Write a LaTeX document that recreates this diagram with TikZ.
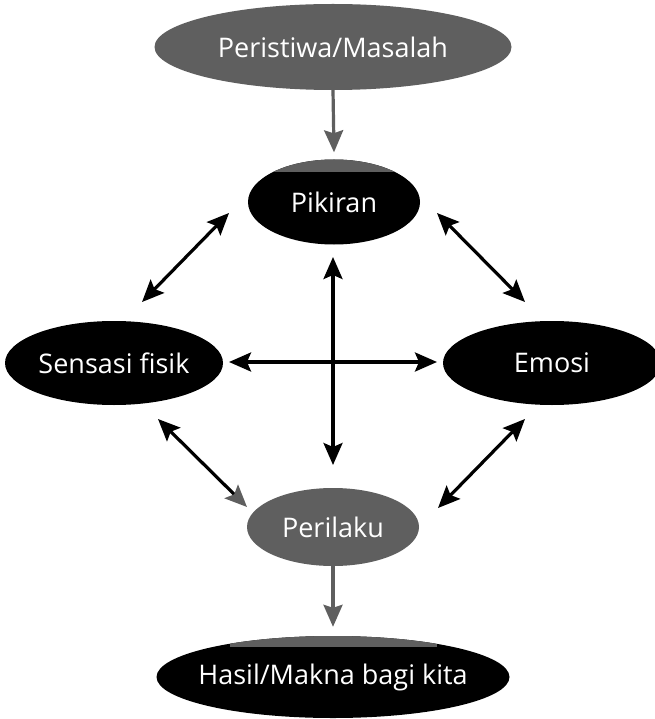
\documentclass[tikz,border=0pt]{standalone}
\usepackage{fontspec}
\setmainfont{Open Sans}
\usetikzlibrary{shapes.geometric,arrows.meta,calc}
\definecolor{greyfill}{HTML}{5F5F5F}
\newcommand{\ovaltext}[1]{\makebox[0pt][c]{#1}}
\tikzset{
  oval/.style={ellipse, inner sep=0pt, text=white, font=\fontsize{27pt}{31pt}\selectfont},
  blk/.style={oval, fill=black},
  gry/.style={oval, fill=greyfill},
  dbl/.style={line width=3.2pt, {Stealth[length=22pt,width=19pt,inset=4pt]}-{Stealth[length=22pt,width=19pt,inset=4pt]}},
  flow/.style={line width=3.2pt, draw=greyfill, -{Stealth[length=22pt,width=19pt,inset=3pt,color=greyfill]}}
}
\begin{document}
\begin{tikzpicture}[x=1pt,y=-1pt]
\useasboundingbox[fill=white] (0,0) rectangle (654,719);
\node[gry, minimum width=357pt, minimum height=86pt] (top) at (333,47) {\ovaltext{Peristiwa/Masalah}};
\node[blk, minimum width=172pt, minimum height=85pt] (pik) at (334,202) {\ovaltext{Pikiran}};
\node[blk, minimum width=218pt, minimum height=84pt] (sen) at (114,363) {\ovaltext{Sensasi fisik}};
\node[blk, minimum width=218pt, minimum height=84pt] (emo) at (552,363) {\ovaltext{Emosi}};
\node[gry, minimum width=172pt, minimum height=78pt] (per) at (333,527) {\ovaltext{Perilaku}};
\node[blk, minimum width=353pt, minimum height=82pt] (has) at (333,677) {\ovaltext{Hasil/Makna bagi kita}};
% grey caps
\begin{scope}
\clip (334,202) ellipse (86pt and 42.5pt);
\fill[greyfill] (240,150) rectangle (430,172);
\end{scope}
\begin{scope}
\clip (333,677) ellipse (176.5pt and 41pt);
\fill[greyfill] (230,620) rectangle (437,647);
\end{scope}
% flow arrows
\draw[flow] (top.south) -- ($(pik.north)+(0,-7)$);
\draw[flow] (per.south) -- ($(has.north)+(0,-9)$);
% double arrows
\draw[dbl] ($(pik)+(-105,11)$) -- ($(sen)+(28,-61)$);
\draw[dbl] ($(pik)+(103,11)$) -- ($(emo)+(-27,-61)$);
\draw[line width=3.2pt, {Stealth[length=22pt,width=19pt,inset=4pt]}-{Stealth[length=22pt,width=19pt,inset=4pt,color=greyfill]}] ($(sen)+(44,56)$) -- ($(per)+(-86,-20)$);
\draw[dbl] ($(emo)+(-27,56)$) -- ($(per)+(105,-19)$);
\draw[dbl] ($(pik)+(-1,55)$) -- ($(per)+(0,-62)$);
\draw[dbl] ($(sen)+(115,-1)$) -- ($(emo)+(-115,-1)$);
\end{tikzpicture}
\end{document}
